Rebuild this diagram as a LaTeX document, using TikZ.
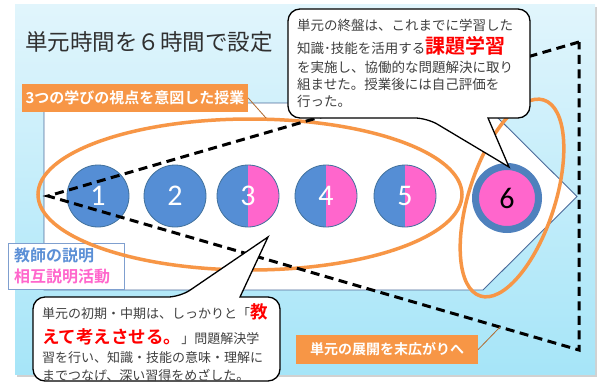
\documentclass[tikz,border=0pt]{standalone}
\usepackage{fontspec}
\setmainfont{Noto Sans CJK JP}[BoldFont={Noto Sans CJK JP Bold}]
\newfontfamily\numfont{Carlito}
\definecolor{bgtop}{HTML}{E1F5FC}
\definecolor{bgbot}{HTML}{A6E5F8}
\definecolor{orangec}{HTML}{F79646}
\definecolor{connc}{HTML}{B06A30}
\definecolor{bodyb}{HTML}{4A6A9A}
\definecolor{boxb}{HTML}{7F9FCF}
\definecolor{bluet}{HTML}{5B8FD6}
\definecolor{circf}{HTML}{558ED5}
\definecolor{circb}{HTML}{41719C}
\definecolor{pinkc}{HTML}{FF66CC}
\definecolor{ringc}{HTML}{4F81BD}
\definecolor{redc}{HTML}{FF0000}
\definecolor{textc}{HTML}{404040}
\definecolor{titlec}{HTML}{303030}
\tikzset{
  numcirc/.style={circle, fill=circf, draw=circb, line width=0.8, minimum size=62, inner sep=0, outer sep=0,
    text=white, font=\numfont\fontsize{30}{30}\selectfont},
  halfpink/.style={path picture={\fill[pinkc] (path picture bounding box.north) rectangle (path picture bounding box.south east);}},
  lbl/.style={fill=orangec, text=white, inner sep=0, font=\bfseries\fontsize{15}{18}\selectfont},
  conn/.style={draw=connc, line width=0.8},
  oring/.style={draw=orangec, line width=3.5},
  dashline/.style={draw=black, line width=3, dash pattern=on 9 off 5.5, line join=miter},
  bubline/.style={draw=black, line width=1.3, fill=white},
  btext/.style={anchor=base west, inner sep=0, text=textc, font=\fontsize{13.5}{16}\selectfont},
  ctext/.style={anchor=base west, inner sep=0, text=textc, font=\fontsize{13}{16}\selectfont}
}
\begin{document}
\begin{tikzpicture}[x=1pt,y=-1pt]
\useasboundingbox (0,0) rectangle (604,383);
% background panel
\fill[black!18] (17,6.5) rectangle (597,376.5);
\shade[top color=bgtop, bottom color=bgbot] (15,4) rectangle (595,374);
% white arrow body
\draw[bodyb, line width=0.9, fill=white] (44,103) -- (483,103) -- (577,196.5) -- (483,290) -- (44,290) -- cycle;
% left box
\node[draw=boxb, line width=0.9, fill=white, minimum width=116, minimum height=46, inner sep=0] (tbox) at (66,266) {};
\node[anchor=west, inner sep=0, text=bluet, font=\bfseries\fontsize{16}{18}\selectfont] (tb1) at (14,255) {教師の説明};
\node[anchor=west, inner sep=0, text=pinkc, font=\bfseries\fontsize{16}{18}\selectfont] (tb2) at (14,276) {相互説明活動};
% circles
\node[numcirc] (c1) at (98,196) {1};
\node[numcirc] (c2) at (175,196) {2};
\node[numcirc, halfpink] (c3) at (248,196) {3};
\node[numcirc, halfpink] (c4) at (326,196) {4};
\node[numcirc, halfpink] (c5) at (405,196) {5};
\node[circle, fill=pinkc, draw=ringc, line width=7, minimum size=63, inner sep=0, text=black,
  font=\numfont\fontsize{30}{30}\selectfont] (c6) at (507,198) {6};
% orange ellipses
\draw[oring] (250,194.5) ellipse [x radius=212, y radius=75.5];
\draw[oring, rotate around={-18:(512,198)}] (512,198) ellipse [x radius=43, y radius=103];
% dashed triangle
\coordinate (apex) at (48,196);
\coordinate (tr) at (579,42);
\coordinate (br) at (579,350);
\draw[dashline] (tr) -- (apex) -- (br) -- cycle;
% title
\node[anchor=base west, inner sep=0, text=titlec, font=\fontsize{22.5}{24}\selectfont] (title) at (25,50) {単元時間を６時間で設定};
% orange labels
\node[lbl, minimum width=226, minimum height=28] (lab1) at (135,98) {3つの学びの視点を意図した授業};
\coordinate (e1) at (266,118);
\draw[conn] (lab1.east) -- (e1);
\node[lbl, minimum width=182, minimum height=29, font=\bfseries\fontsize{14}{16}\selectfont] (lab2) at (387,349.5) {単元の展開を末広がりへ};
\coordinate (e2) at (500,327);
\draw[conn] (lab2.east) -- (e2);
% top callout
\coordinate (tip1) at (509,167);
\draw[bubline, rounded corners=12] (488,118) -- (530,118) -- (530,9) -- (288,9) -- (288,118) -- (427,118) [sharp corners] -- (tip1) -- cycle;
\node[btext] (tl1) at (297,30) {単元の終盤は、これまでに学習した};
\node[btext] (tl2) at (297,53) {知識･技能を活用する{\color{redc}\bfseries\fontsize{20}{20}\selectfont 課題学習}};
\node[btext] (tl3) at (297,72) {を実施し、協働的な問題解決に取り};
\node[btext] (tl4) at (297,89) {組ませた。授業後には自己評価を};
\node[btext] (tl5) at (297,106) {行った。};
% bottom callout
\coordinate (tip2) at (268,237);
\draw[bubline, rounded corners=12] (240,297) -- (280,297) -- (280,381) -- (33,381) -- (33,297) -- (180,297) [sharp corners] -- (tip2) -- cycle;
\node[ctext] (bl1) at (42,318) {単元の初期・中期は、しっかりと「{\color{redc}\bfseries\fontsize{17.5}{18}\selectfont 教}};
\node[ctext] (bl2) at (42,343) {{\color{redc}\bfseries\fontsize{17.5}{18}\selectfont えて考えさせる。}」問題解決学};
\node[ctext] (bl3) at (42,362) {習を行い、知識・技能の意味・理解に};
\node[ctext] (bl4) at (42,380) {までつなげ、深い習得をめざした。};
\end{tikzpicture}
\end{document}
